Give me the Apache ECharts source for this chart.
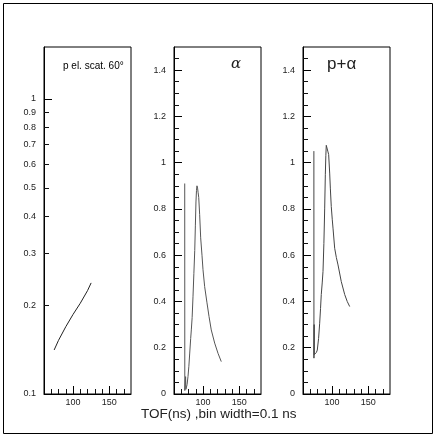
<!DOCTYPE html>
<html>
<head>
    <meta charset="utf-8" />
    <title>TOF spectra</title>
    <script src="https://cdn.jsdelivr.net/npm/echarts@6/dist/echarts.min.js"></script>
    <style>
        html, body { margin: 0; padding: 0; background: #fff; }
    </style>
</head>
<body>
<div id="main" style="width: 441px;height:436px;"></div>

<script type="text/javascript">
    // data
    var scatX = [74.0, 80, 90, 100, 110, 120, 125];
    var scatY = [0.141, 0.152, 0.169, 0.186, 0.203, 0.224, 0.238];

    var alphaX = [74.8, 74.9, 75.6, 76.0, 76.4, 77.0, 78.0, 79.3, 80.5, 81.7, 83.0, 83.9, 85.0, 86.2, 87.4, 88.6, 89.5, 90.3, 91.0, 91.7, 92.5, 93.3, 94.1, 95.4, 96.8, 98.6, 100.0, 102.3, 105.5, 108.3, 111.4, 116.1, 120.7, 125.2];
    var alphaY = [0.91, 0.015, 0.02, 0.075, 0.02, 0.017, 0.04, 0.075, 0.12, 0.177, 0.24, 0.277, 0.33, 0.42, 0.52, 0.62, 0.73, 0.83, 0.88, 0.90, 0.89, 0.87, 0.85, 0.775, 0.675, 0.60, 0.537, 0.464, 0.394, 0.335, 0.277, 0.22, 0.176, 0.14];

    var pAlphaX = [75.0, 75.1, 75.4, 75.5, 76.0, 77.0, 78.5, 79.7, 81.5, 83.0, 84.2, 85.2, 86.5, 87.6, 88.8, 89.9, 90.8, 91.5, 92.1, 93.0, 94.2, 95.4, 96.8, 97.7, 99.0, 100.4, 101.4, 103.7, 106.0, 108.3, 112.8, 117.5, 121.0, 124.4];
    var pAlphaY = [1.05, 0.155, 0.30, 0.17, 0.165, 0.169, 0.18, 0.19, 0.24, 0.306, 0.37, 0.43, 0.48, 0.53, 0.65, 0.80, 0.95, 1.03, 1.075, 1.07, 1.05, 1.035, 0.955, 0.89, 0.81, 0.753, 0.717, 0.63, 0.59, 0.558, 0.486, 0.43, 0.40, 0.378];

    // tick labels and minor tick positions
    var xLabels = [100, 150];
    var xMinor = [70, 80, 90, 110, 120, 130, 140, 160, 170];
    var logLabels = [0.1, 0.2, 0.3, 0.4, 0.5, 0.6, 0.7, 0.8, 0.9, 1];
    var logMinor = [0.2, 0.3, 0.4, 0.5, 0.6, 0.7, 0.8, 0.9];
    var linLabels = [0, 0.2, 0.4, 0.6, 0.8, 1, 1.2, 1.4];
    var linMinor = [0.05, 0.1, 0.15, 0.25, 0.3, 0.35, 0.45, 0.5, 0.55, 0.65, 0.7, 0.75, 0.85, 0.9, 0.95, 1.05, 1.1, 1.15, 1.25, 1.3, 1.35, 1.45];

    function pairs(xs, ys) {
        return xs.map(function (x, i) { return [x, ys[i]]; });
    }

    var lefts = [44, 174, 303];
    var labelFont = { fontSize: 9, color: '#222', fontFamily: 'Liberation Sans' };

    var grids = [], xAxes = [], yAxes = [];
    lefts.forEach(function (l, i) {
        var isLog = i === 0;
        grids.push({ left: l, top: 47, width: 87, height: 347, show: true, borderColor: '#000', borderWidth: 1 });
        xAxes.push({
            type: 'value', gridIndex: i, min: 60, max: 180, position: 'bottom',
            axisLine: { show: true, lineStyle: { color: '#000' } },
            axisTick: { inside: true, length: 8, customValues: xLabels, lineStyle: { color: '#000' } },
            axisLabel: Object.assign({ customValues: xLabels, margin: 4 }, labelFont),
            splitLine: { show: false }
        });
        xAxes.push({
            type: 'value', gridIndex: i, min: 60, max: 180, position: 'bottom',
            axisTick: { show: true, inside: true, length: 5, customValues: xMinor, lineStyle: { color: '#111' } },
            splitLine: { show: false },
            axisLine: { show: false },
            axisLabel: { show: false }
        });
        yAxes.push({
            type: isLog ? 'log' : 'value', gridIndex: i, min: isLog ? 0.1 : 0, max: 1.5, position: 'left',
            axisLine: { show: true, lineStyle: { color: '#000' } },
            axisTick: { inside: true, length: 8, customValues: isLog ? [1] : linLabels, lineStyle: { color: '#000' } },
            axisLabel: Object.assign({ customValues: isLog ? logLabels : linLabels, margin: 8 }, labelFont),
            splitLine: { show: false }
        });
        yAxes.push({
            type: isLog ? 'log' : 'value', gridIndex: i, min: isLog ? 0.1 : 0, max: 1.5, position: 'left',
            axisTick: { show: true, inside: true, length: 5, customValues: isLog ? logMinor : linMinor, lineStyle: { color: '#111' } },
            splitLine: { show: false },
            axisLine: { show: false },
            axisLabel: { show: false }
        });
    });

    function lineSeries(idx, data, color) {
        return {
            type: 'line', xAxisIndex: idx * 2, yAxisIndex: idx * 2,
            data: data, showSymbol: false, animation: false,
            lineStyle: { color: color, width: 1 }
        };
    }

    var myChart = echarts.init(document.getElementById('main'));
    var option = {
        animation: false,
        grid: grids,
        xAxis: xAxes,
        yAxis: yAxes,
        series: [
            lineSeries(0, pairs(scatX, scatY), '#222'),
            lineSeries(1, pairs(alphaX, alphaY), '#555'),
            lineSeries(2, pairs(pAlphaX, pAlphaY), '#444')
        ],
        graphic: [
            { type: 'rect', shape: { x: 3.5, y: 3.5, width: 429, height: 430 }, style: { fill: null, stroke: '#000', lineWidth: 1 } },
            { type: 'text', left: 63, top: 61, style: { text: 'p el. scat. 60°', fontSize: 10, fontFamily: 'Liberation Sans', fill: '#000' } },
            { type: 'text', left: 231, top: 57, style: { text: 'α', fontSize: 15, fontStyle: 'italic', fontFamily: 'DejaVu Serif', fill: '#222' } },
            { type: 'text', left: 327, top: 56, style: { text: 'p+α', fontSize: 17, fontFamily: 'Liberation Sans', fill: '#222' } },
            { type: 'text', left: 141, top: 407, style: { text: 'TOF(ns) ,bin width=0.1 ns', fontSize: 13.5, fontFamily: 'Liberation Sans', fill: '#222' } }
        ]
    };
    myChart.setOption(option);
</script>
</body>
</html>
